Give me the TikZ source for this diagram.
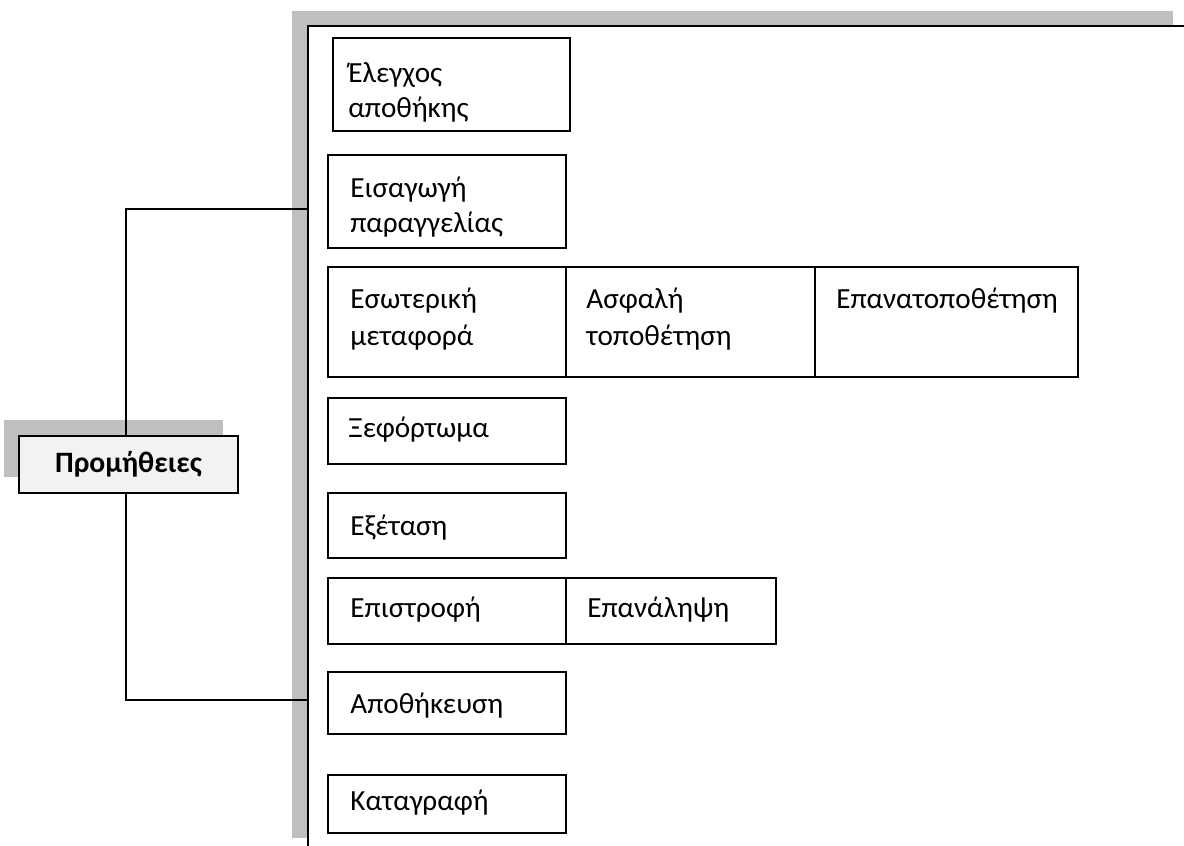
\documentclass[tikz,border=0pt]{standalone}
\usepackage{fontspec}
\setmainfont{Carlito}
\usetikzlibrary{calc}
\definecolor{shadow}{HTML}{BFBFBF}
\definecolor{rootfill}{HTML}{F2F2F2}
\tikzset{
  stepbox/.style={draw=black, line width=1pt, fill=white, inner sep=0pt, outer sep=0pt},
  txt/.style={anchor=base west, inner sep=0pt, font=\fontsize{14.6}{18}\selectfont},
  conn/.style={draw=black, line width=1pt},
}
\newcommand{\bx}[5]{% name, x1, y1, x2, y2
  \path[stepbox] (#2,#3) rectangle (#4,#5);
  \coordinate (#1) at (#2,#3);
}
\begin{document}
\begin{tikzpicture}[x=0.5pt,y=-0.5pt]
\useasboundingbox (0,0) rectangle (1184,846);
\clip (0,0) rectangle (1184,846);
% frame shadow and frame
\fill[shadow] (292,11) rectangle (1173,838);
\fill[white] (308,26) rectangle (1200,860);
\draw[conn] (1200,26) -- (308,26) -- (308,860);
\coordinate (ftop) at (308,209);
\coordinate (fbot) at (308,700);

% root node
\fill[shadow] (4,420) rectangle (223,477);
\node[draw=black, line width=1pt, fill=rootfill, minimum width=109.5pt, minimum height=28.5pt,
      inner sep=0pt, font=\bfseries\fontsize{14.8}{16}\selectfont] (pm) at (128.5,464.5) {Προμήθειες};

% connectors
\draw[conn] ($(pm.north)+(-2.5,0)$) |- (ftop);
\draw[conn] ($(pm.south)+(-2.5,0)$) |- (fbot);

% boxes
\bx{b1}{333}{38}{570}{131}
\node[txt] (t1a) at (348,82) {Έλεγχος};
\node[txt] (t1b) at (348,117) {αποθήκης};

\bx{b2}{328}{155}{566}{248}
\node[txt] (t2a) at (350,197) {Εισαγωγή};
\node[txt] (t2b) at (350,232) {παραγγελίας};

\bx{b3a}{328}{267}{566}{377}
\node[txt] (t3a) at (350,308) {Εσωτερική};
\node[txt] (t3b) at (350,345) {μεταφορά};
\bx{b3b}{566}{267}{815}{377}
\node[txt] (t3c) at (586,308) {Ασφαλή};
\node[txt] (t3d) at (586,345) {τοποθέτηση};
\bx{b3c}{815}{267}{1078}{377}
\node[txt] (t3e) at (836,308) {Επανατοποθέτηση};

\bx{b4}{328}{398}{566}{464}
\node[txt] (t4) at (348,437) {Ξεφόρτωμα};

\bx{b5}{328}{493}{566}{558}
\node[txt] (t5) at (350,535) {Εξέταση};

\bx{b6a}{328}{578}{566}{644}
\node[txt] (t6a) at (350,617) {Επιστροφή};
\bx{b6b}{566}{578}{776}{644}
\node[txt] (t6b) at (587,617) {Επανάληψη};

\bx{b7}{328}{672}{566}{734}
\node[txt] (t7) at (350,713) {Αποθήκευση};

\bx{b8}{328}{775}{566}{833}
\node[txt] (t8) at (350,810) {Καταγραφή};
\end{tikzpicture}
\end{document}
